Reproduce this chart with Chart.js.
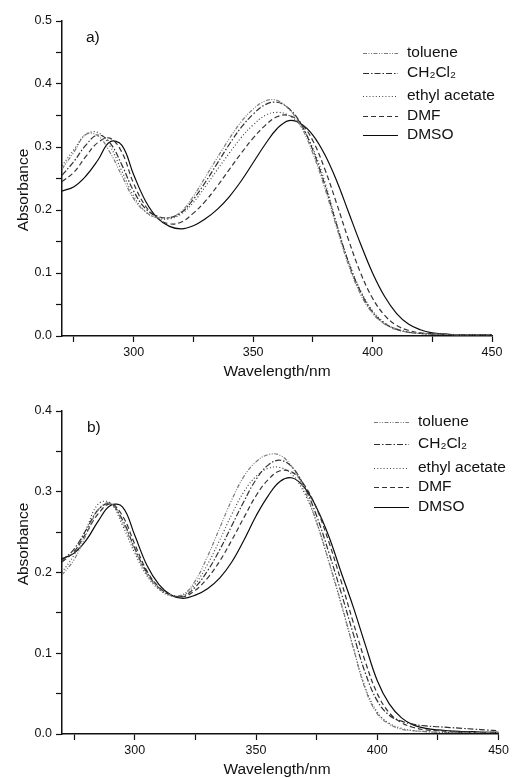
<!DOCTYPE html>
<html>
<head>
<meta charset="utf-8">
<title>Absorption spectra in different solvents</title>
<script src="https://cdn.jsdelivr.net/npm/chart.js@4.4.1/dist/chart.umd.min.js"></script>
<style>
  body { margin: 0; background: #fff; }
  #wrap { position: relative; width: 512px; height: 778px; }
  canvas { position: absolute; left: 0; }
  #chartA { top: 0; }
  #chartB { top: 385px; }
</style>
</head>
<body>
<div id="wrap">
  <canvas id="chartA" width="512" height="385"></canvas>
  <canvas id="chartB" width="512" height="393"></canvas>
</div>
<script>
// wavelength grid (nm), shared by every series
const wavelengths = [270, 275, 280, 285, 290, 295, 300, 305, 310, 315, 320, 325, 330, 335, 340, 345,
  350, 355, 360, 365, 370, 375, 380, 385, 390, 395, 400, 405, 410, 415, 420, 425, 430, 435, 440, 445, 450];

const solvents = ['toluene', 'CH\u2082Cl\u2082', 'ethyl acetate', 'DMF', 'DMSO'];

// panel a) absorbance
const tolueneA = [0.265, 0.292, 0.320, 0.318, 0.292, 0.255, 0.218, 0.197, 0.188, 0.188, 0.198, 0.222, 0.252, 0.283, 0.313, 0.340,
  0.360, 0.373, 0.374, 0.360, 0.333, 0.290, 0.235, 0.172, 0.112, 0.066, 0.036, 0.019, 0.010, 0.006, 0.004, 0.003, 0.003, 0.002, 0.002, 0.002, 0.002];
const ch2cl2A = [0.255, 0.277, 0.303, 0.319, 0.307, 0.272, 0.230, 0.202, 0.190, 0.188, 0.196, 0.217, 0.244, 0.274, 0.304, 0.331,
  0.352, 0.367, 0.371, 0.361, 0.337, 0.295, 0.240, 0.176, 0.116, 0.070, 0.038, 0.020, 0.011, 0.006, 0.004, 0.003, 0.003, 0.002, 0.002, 0.002, 0.002];
const ethylA = [0.270, 0.296, 0.320, 0.323, 0.302, 0.262, 0.222, 0.197, 0.187, 0.186, 0.194, 0.212, 0.237, 0.264, 0.290, 0.315,
  0.335, 0.350, 0.355, 0.350, 0.333, 0.298, 0.245, 0.178, 0.118, 0.072, 0.040, 0.021, 0.011, 0.006, 0.004, 0.003, 0.003, 0.002, 0.002, 0.002, 0.002];
const dmfA = [0.245, 0.260, 0.285, 0.307, 0.314, 0.292, 0.242, 0.206, 0.187, 0.178, 0.181, 0.195, 0.214, 0.238, 0.264, 0.290,
  0.314, 0.334, 0.348, 0.350, 0.338, 0.310, 0.265, 0.210, 0.152, 0.100, 0.060, 0.033, 0.017, 0.009, 0.005, 0.004, 0.003, 0.002, 0.002, 0.002, 0.002];
const dmsoA = [0.230, 0.237, 0.254, 0.279, 0.308, 0.303, 0.256, 0.214, 0.187, 0.174, 0.170, 0.175, 0.186, 0.201, 0.221, 0.246,
  0.275, 0.304, 0.329, 0.342, 0.337, 0.319, 0.288, 0.246, 0.196, 0.146, 0.100, 0.063, 0.036, 0.019, 0.010, 0.005, 0.003, 0.002, 0.002, 0.002, 0.002];

// panel b) absorbance
const tolueneB = [0.197, 0.216, 0.247, 0.278, 0.286, 0.262, 0.228, 0.198, 0.180, 0.172, 0.173, 0.190, 0.220, 0.255, 0.290, 0.319,
  0.337, 0.346, 0.345, 0.330, 0.302, 0.262, 0.214, 0.163, 0.108, 0.056, 0.025, 0.012, 0.006, 0.004, 0.003, 0.002, 0.002, 0.002, 0.002, 0.002, 0.002];
const ch2cl2B = [0.215, 0.229, 0.253, 0.278, 0.285, 0.265, 0.230, 0.200, 0.181, 0.172, 0.171, 0.182, 0.202, 0.228, 0.258, 0.288,
  0.315, 0.333, 0.339, 0.330, 0.306, 0.270, 0.225, 0.176, 0.125, 0.076, 0.041, 0.023, 0.016, 0.012, 0.010, 0.009, 0.008, 0.007, 0.006, 0.005, 0.004];
const ethylB = [0.200, 0.222, 0.254, 0.285, 0.286, 0.258, 0.224, 0.196, 0.179, 0.171, 0.172, 0.186, 0.210, 0.240, 0.272, 0.300,
  0.319, 0.329, 0.330, 0.321, 0.298, 0.262, 0.213, 0.162, 0.108, 0.058, 0.027, 0.013, 0.007, 0.004, 0.003, 0.002, 0.002, 0.002, 0.002, 0.002, 0.002];
const dmfB = [0.213, 0.226, 0.249, 0.273, 0.285, 0.270, 0.235, 0.202, 0.182, 0.172, 0.170, 0.178, 0.193, 0.214, 0.240, 0.268,
  0.295, 0.315, 0.326, 0.324, 0.308, 0.279, 0.238, 0.190, 0.139, 0.090, 0.050, 0.026, 0.014, 0.008, 0.005, 0.004, 0.003, 0.002, 0.002, 0.002, 0.002];
const dmsoB = [0.217, 0.224, 0.240, 0.264, 0.283, 0.281, 0.246, 0.209, 0.185, 0.172, 0.168, 0.172, 0.180, 0.193, 0.213, 0.240,
  0.270, 0.295, 0.313, 0.317, 0.305, 0.280, 0.245, 0.201, 0.158, 0.111, 0.066, 0.037, 0.020, 0.011, 0.007, 0.005, 0.004, 0.003, 0.003, 0.002, 0.002];

// axis ticks (major ones carry a label)
const xTicks = [275, 300, 325, 350, 375, 400, 425, 450];
const xLabels = [300, 350, 400, 450];
const yTicksA = [0, 0.05, 0.1, 0.15, 0.2, 0.25, 0.3, 0.35, 0.4, 0.45, 0.5];
const yTicksB = [0, 0.05, 0.1, 0.15, 0.2, 0.25, 0.3, 0.35, 0.4];
const yLabels = [0, 0.1, 0.2, 0.3, 0.4, 0.5];

// line look per solvent, same order as solvents
const lineColors = ['#7a7a7a', '#2e2e2e', '#444444', '#333333', '#0a0a0a'];
const lineDashes = [[4, 1.5, 1, 1.5, 1, 1.5], [6, 2, 1.5, 2], [1, 2.2], [5, 3], []];

const FONT = '"Liberation Sans", Arial, Helvetica, sans-serif';

// letter, axis titles and legend drawn at fixed spots like the original figure
const panelText = {
  id: 'panelText',
  afterDraw(chart, args, o) {
    const ctx = chart.ctx;
    ctx.save();
    ctx.fillStyle = '#111';
    ctx.font = '15.5px ' + FONT;
    ctx.textBaseline = 'middle';
    ctx.textAlign = 'left';
    ctx.fillText(o.letter, o.letterPos[0], o.letterPos[1]);

    ctx.textAlign = 'center';
    ctx.fillText('Wavelength/nm', o.xTitlePos[0], o.xTitlePos[1]);
    ctx.save();
    ctx.translate(o.yTitlePos[0], o.yTitlePos[1]);
    ctx.rotate(-Math.PI / 2);
    ctx.fillText('Absorbance', 0, 0);
    ctx.restore();

    chart.data.datasets.forEach((ds, i) => {
      const y = o.legendRows[i];
      ctx.strokeStyle = ds.borderColor;
      ctx.lineWidth = 1.2;
      ctx.setLineDash(ds.borderDash);
      ctx.beginPath();
      ctx.moveTo(o.legendX, y + 0.5);
      ctx.lineTo(o.legendX + 35, y + 0.5);
      ctx.stroke();
      ctx.setLineDash([]);
      ctx.textAlign = 'left';
      ctx.fillText(ds.label, o.legendX + 44, y);
    });
    ctx.restore();
  }
};

function makePanel(canvasId, series, yTicks, yMax, box, text) {
  const datasets = series.map((vals, i) => ({
    label: solvents[i],
    data: vals,
    borderColor: lineColors[i],
    borderDash: lineDashes[i],
    borderWidth: 1.2,
    pointRadius: 0,
    fill: false,
    tension: 0.4
  }));

  return new Chart(document.getElementById(canvasId), {
    type: 'line',
    data: { labels: wavelengths, datasets: datasets },
    plugins: [panelText],
    options: {
      responsive: false,
      animation: false,
      events: [],
      layout: { padding: { top: box.top, right: box.right, left: 0, bottom: 0 } },
      scales: {
        x: {
          type: 'linear',
          min: 270,
          max: 450,
          afterBuildTicks: s => { s.ticks = xTicks.map(v => ({ value: v })); },
          afterFit: s => { s.height = box.xAxisHeight; },
          border: { display: true, color: '#111', width: 1.5 },
          grid: { drawOnChartArea: false, drawTicks: true, tickLength: 6, tickColor: '#111', tickWidth: 1.2 },
          ticks: {
            color: '#111',
            font: { family: FONT, size: 12.5 },
            padding: 3,
            maxRotation: 0,
            autoSkip: false,
            callback: v => (xLabels.includes(v) ? String(v) : '')
          }
        },
        y: {
          min: 0,
          max: yMax,
          afterBuildTicks: s => { s.ticks = yTicks.map(v => ({ value: v })); },
          afterFit: s => { s.width = 62; },
          border: { display: true, color: '#111', width: 1.5 },
          grid: { drawOnChartArea: false, drawTicks: true, tickLength: 6, tickColor: '#111', tickWidth: 1.2 },
          ticks: {
            color: '#111',
            font: { family: FONT, size: 12.5 },
            padding: 4,
            autoSkip: false,
            callback: v => (yLabels.some(l => Math.abs(l - v) < 1e-6) ? v.toFixed(1) : '')
          }
        }
      },
      plugins: {
        legend: { display: false },
        tooltip: { enabled: false },
        panelText: text
      }
    }
  });
}

makePanel('chartA', [tolueneA, ch2cl2A, ethylA, dmfA, dmsoA], yTicksA, 0.5,
  { top: 21, right: 20, xAxisHeight: 49 },
  {
    letter: 'a)', letterPos: [86, 38],
    xTitlePos: [277, 372], yTitlePos: [24, 190],
    legendX: 363, legendRows: [53, 73, 96, 116, 135]
  });

makePanel('chartB', [tolueneB, ch2cl2B, ethylB, dmfB, dmsoB], yTicksB, 0.4,
  { top: 26, right: 11, xAxisHeight: 44 },
  {
    letter: 'b)', letterPos: [87, 43],
    xTitlePos: [277, 385], yTitlePos: [24, 159],
    legendX: 374, legendRows: [37, 59, 83, 102, 122]
  });
</script>
</body>
</html>
